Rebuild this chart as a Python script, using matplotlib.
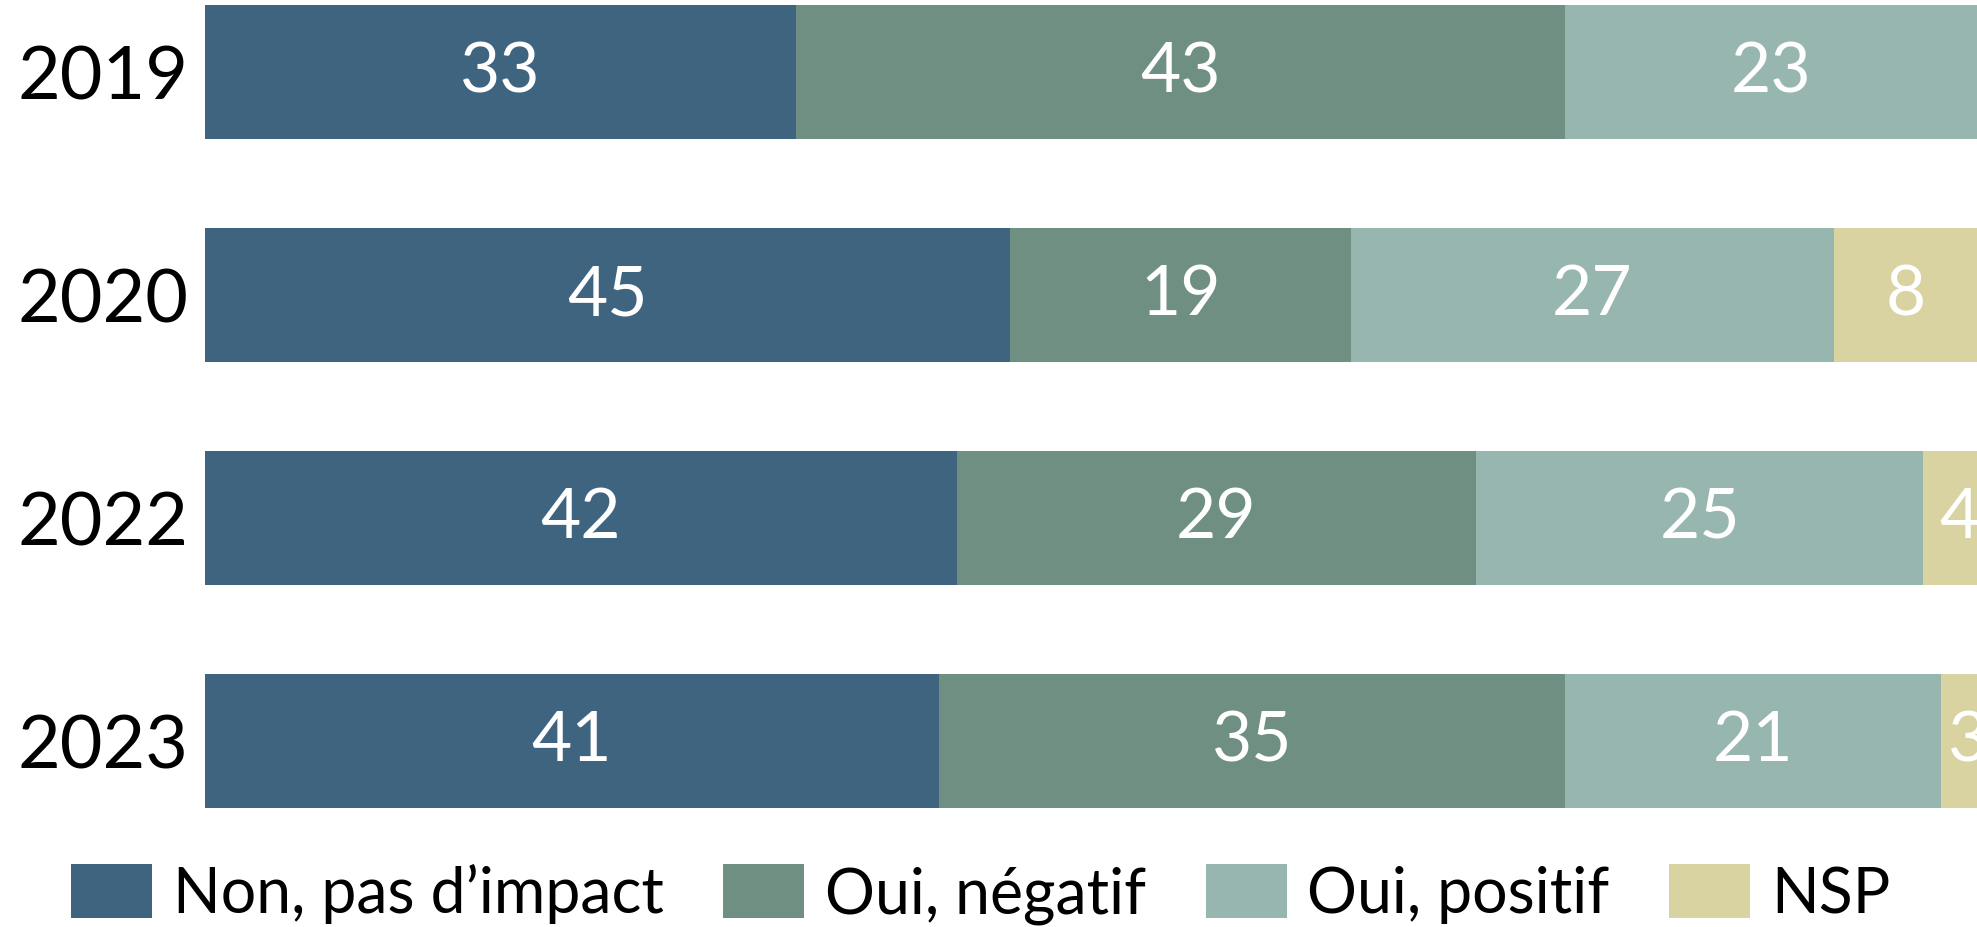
import matplotlib
matplotlib.use("Agg")
import matplotlib.pyplot as plt
import numpy as np

# Données
annees = ["2019", "2020", "2022", "2023"]
non_impact = [33, 45, 42, 41]
oui_negatif = [43, 19, 29, 35]
oui_positif = [23, 27, 25, 21]
nsp = [0, 8, 4, 3]

series = ["Non, pas d\u2019impact", "Oui, négatif", "Oui, positif", "NSP"]
couleurs = ["#3F647F", "#6E8F82", "#98B6B0", "#D8D3A0"]

plt.rcParams["font.family"] = ["Lato", "DejaVu Sans"]

fig = plt.figure(figsize=(19.77, 9.28), dpi=100)
ax = fig.add_axes([205 / 1977, 1 - 830 / 928, 1 - 205 / 1977, 830 / 928])

y = np.arange(len(annees))
gauche = np.zeros(len(annees))
for nom, vals, c in zip(series, [non_impact, oui_negatif, oui_positif, nsp], couleurs):
    vals = np.array(vals, dtype=float)
    ax.barh(y, vals, left=gauche, height=0.6, color=c, label=nom)
    for yi, g, v in zip(y, gauche, vals):
        if v > 0:
            ax.text(g + v / 2, yi, f"{int(v)}", ha="center", va="center",
                    color="white", fontsize=50)
    gauche += vals

ax.set_xlim(0, 99.0)
ax.set_ylim(3.395, -0.327)
ax.set_yticks(y)
ax.set_yticklabels(annees, fontsize=53)
ax.tick_params(axis="y", length=0, pad=12)
ax.set_xticks([])
for s in ax.spines.values():
    s.set_visible(False)

fig.legend(loc="center", bbox_to_anchor=(0.496, 0.036), ncol=4, frameon=False,
           fontsize=45, handlelength=1.3, handleheight=0.95, handletextpad=0.33,
           columnspacing=0.95, borderaxespad=0)

fig.savefig("out.png", dpi=100)
